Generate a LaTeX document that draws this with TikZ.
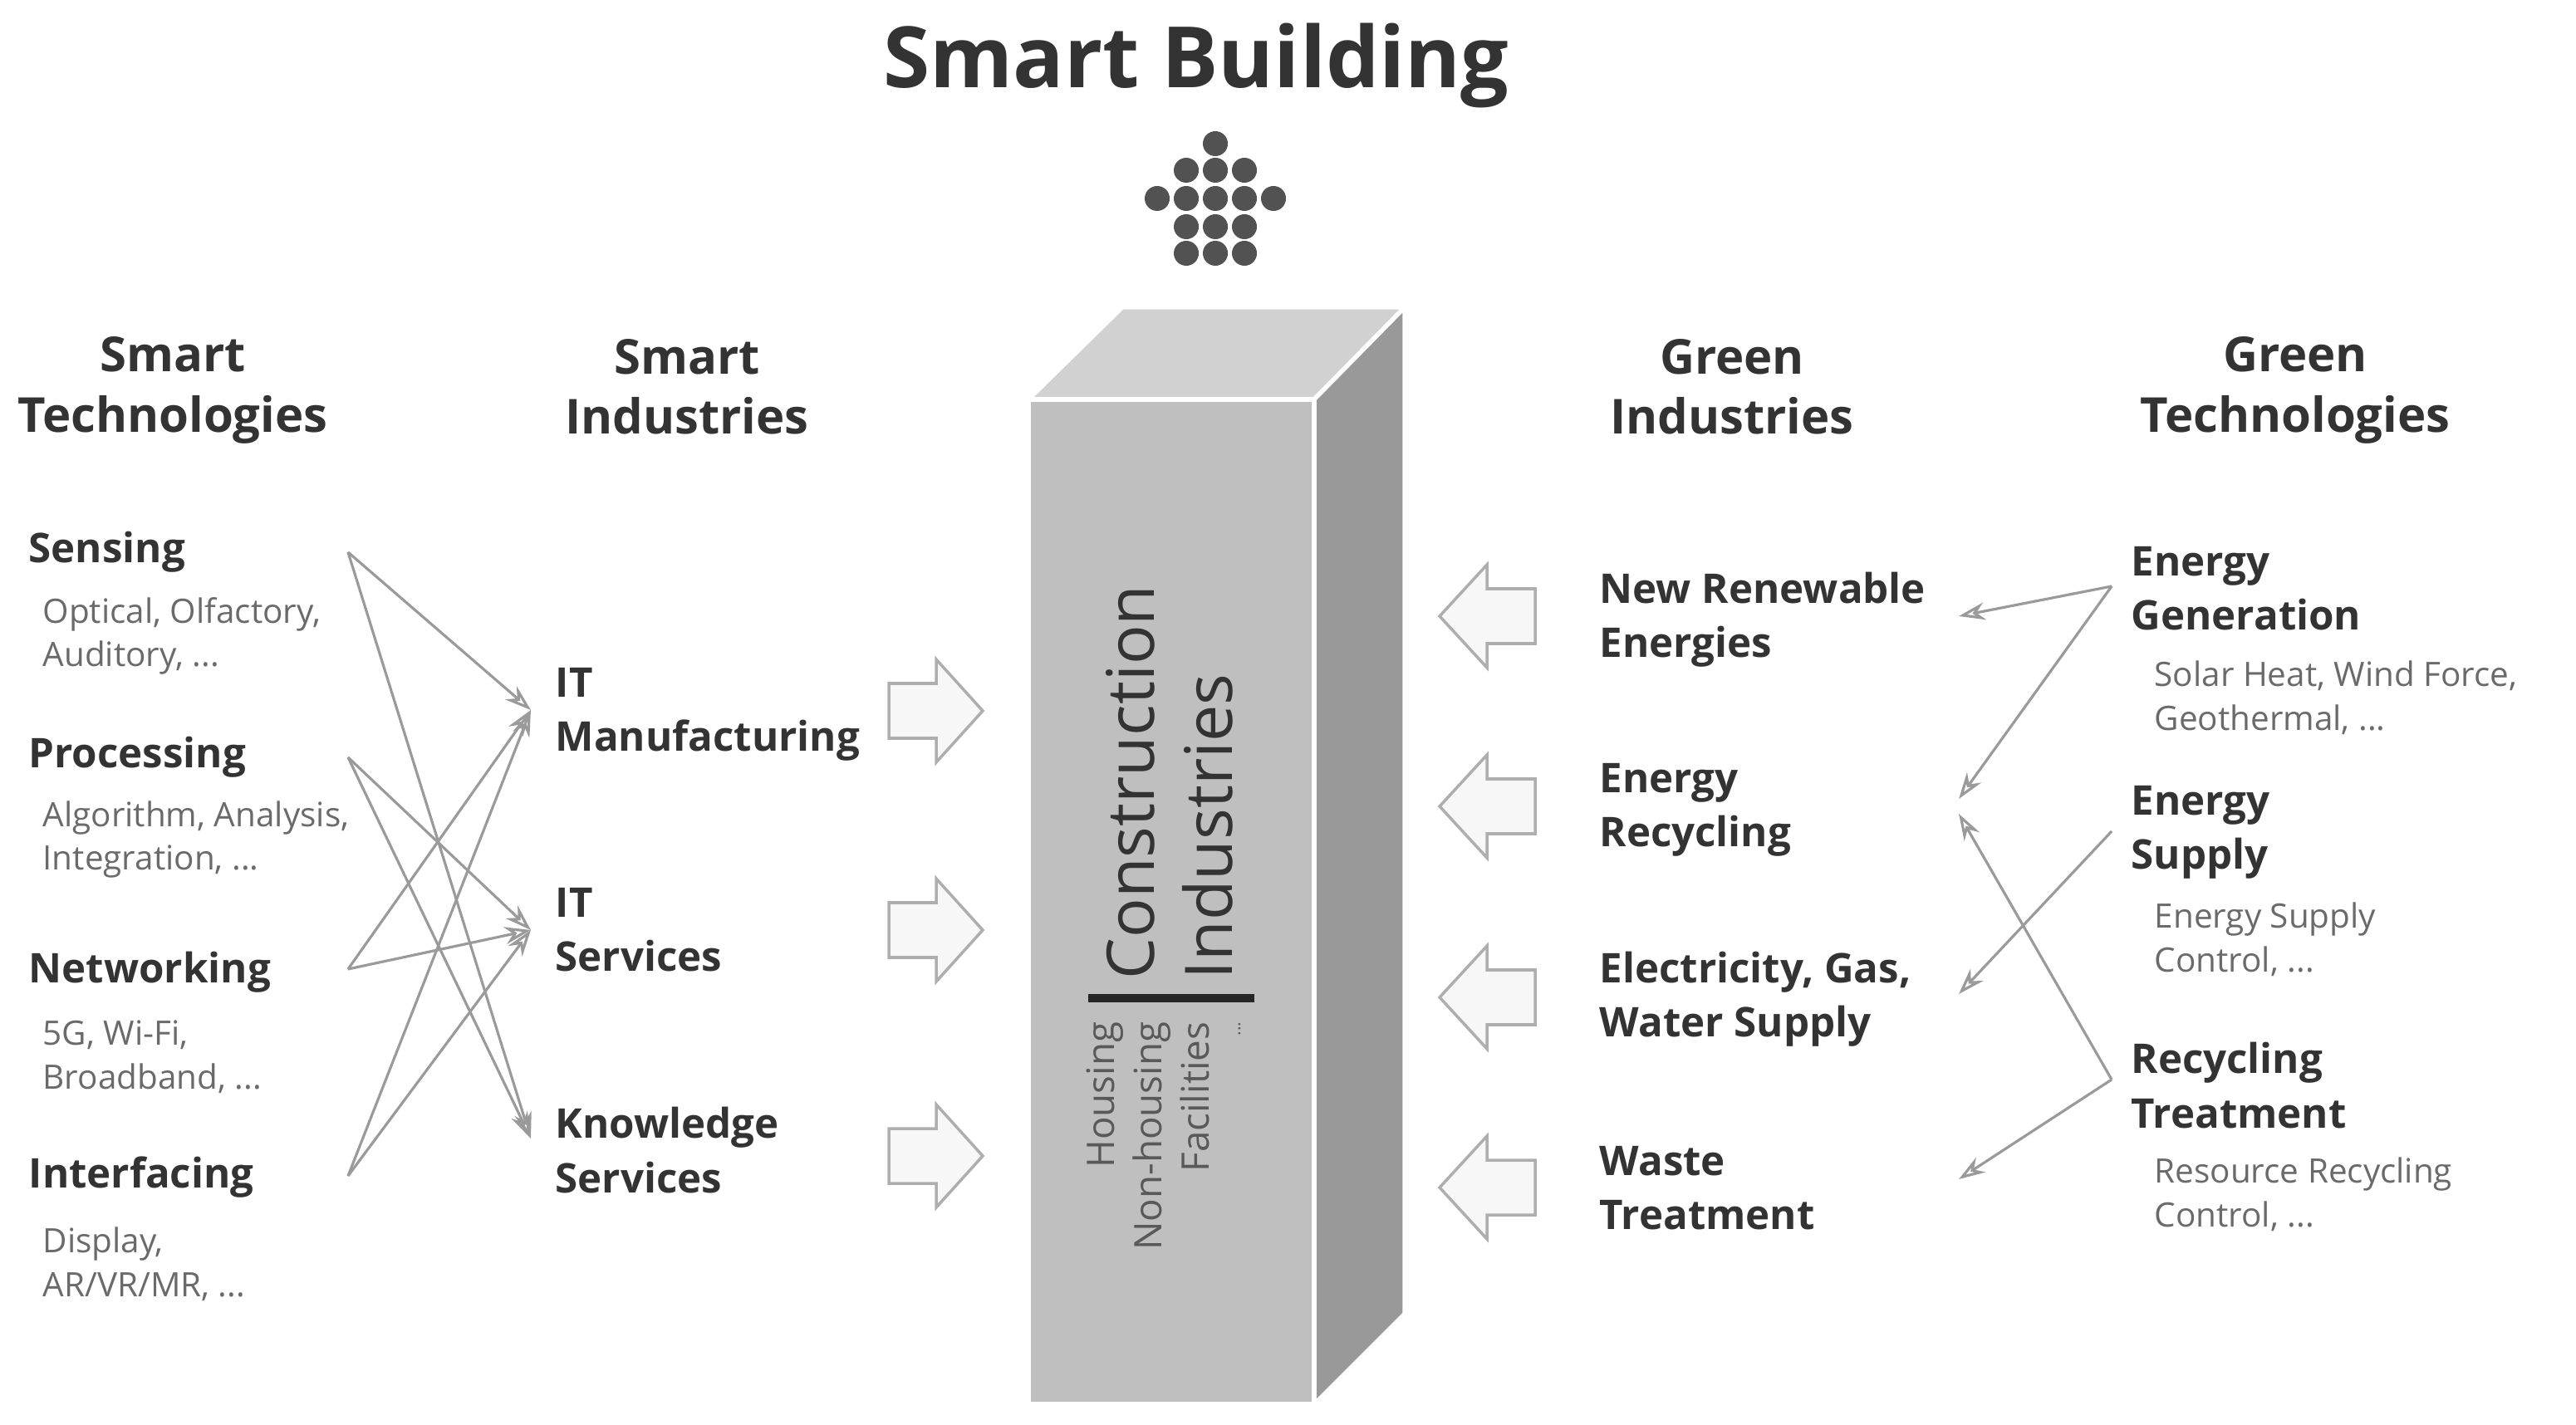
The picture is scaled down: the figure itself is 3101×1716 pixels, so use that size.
\documentclass[tikz,border=0pt]{standalone}
\usepackage{fontspec}
\setmainfont{Open Sans}
\usetikzlibrary{arrows.meta}
\definecolor{txt}{HTML}{333333}
\definecolor{sub}{HTML}{6A6A6A}
\definecolor{ln}{HTML}{9A9A9A}
\tikzset{
 x=0.01cm,y=-0.01cm,
 head/.style={font=\fontsize{16.5}{20.5}\selectfont\bfseries,text=txt,align=center,inner sep=0},
 item/.style={font=\fontsize{14}{18.5}\selectfont\bfseries,text=txt,align=left,anchor=west,inner sep=0},
 subt/.style={font=\fontsize{11.5}{15}\selectfont,text=sub,align=left,anchor=west,inner sep=0},
 conn/.style={draw=ln,line width=0.9pt,-{Stealth[length=9pt,width=6pt,open]}},
 blk/.style={draw=ln!80,fill=gray!6,line width=1pt},
 dot/.style={circle,fill=black!68,minimum size=0.3cm,inner sep=0},
}
\begin{document}
\begin{tikzpicture}
\useasboundingbox (0,0) rectangle (3101,1716);
% title
\node[font=\fontsize{29}{32}\selectfont\bfseries,text=txt] (title) at (1440,79) {Smart Building};
% dots
\foreach \i/\xx/\yy in {a/1463/173,b/1428/205,c/1463/205,d/1498/205,e/1393/239,f/1428/239,g/1463/239,h/1498/239,i/1533/239,j/1428/273,k/1463/273,l/1498/273,m/1428/305,n/1463/305,o/1498/305}
  \node[dot] (dot\i) at (\xx,\yy) {};
% building
\filldraw[fill=black!18,draw=white,line width=1.5pt] (1238,481) -- (1582,481) -- (1691,370) -- (1351,370) -- cycle;
\filldraw[fill=black!40,draw=white,line width=1.5pt] (1582,481) -- (1691,370) -- (1691,1582) -- (1582,1691) -- cycle;
\filldraw[fill=black!25,draw=white,line width=1.5pt] (1238,481) rectangle (1582,1691);
\node[rotate=90,anchor=west,font=\fontsize{22.5}{26}\selectfont,text=txt,inner sep=0] (constr) at (1361,1180) {Construction};
\node[rotate=90,anchor=west,font=\fontsize{22.5}{26}\selectfont,text=txt,inner sep=0] (indus) at (1454,1180) {Industries};
\draw[line width=3pt,black!85] (1310,1202) -- (1510,1202);
\foreach \n/\xx/\t in {hous/1330/Housing,nonh/1387/Non-housing,facil/1438/Facilities}
  \node[rotate=90,anchor=east,font=\fontsize{13}{14}\selectfont,text=black!65,inner sep=0] (\n) at (\xx,1230) {\t};
\node[rotate=90,anchor=east,font=\fontsize{6}{7}\selectfont,text=black!65,inner sep=0] (dots3) at (1492,1230) {...};
% block arrows
\foreach \n/\yy in {l1/856,l2/1120,l3/1392}
  \draw[blk] (1070,\yy-33) -- (1127,\yy-33) -- (1127,\yy-62) -- (1183,\yy) -- (1127,\yy+62) -- (1127,\yy+33) -- (1070,\yy+33) -- cycle;
\foreach \n/\yy in {r1/742,r2/971,r3/1201,r4/1430}
  \draw[blk] (1848,\yy-33) -- (1790,\yy-33) -- (1790,\yy-62) -- (1733,\yy) -- (1790,\yy+62) -- (1790,\yy+33) -- (1848,\yy+33) -- cycle;
% headings
\node[head] (h1) at (208,470) {Smart\\Technologies};
\node[head] (h2) at (827,466) {Smart\\Industries};
\node[head] (h3) at (2085,466) {Green\\Industries};
\node[head] (h4) at (2763,470) {Green\\Technologies};
% smart technologies
\node[item] (sens) at (34,665) {Sensing};
\node[subt] (senss) at (51,766) {Optical, Olfactory,\\Auditory, ...};
\node[item] (proc) at (34,912) {Processing};
\node[subt] (procs) at (51,1011) {Algorithm, Analysis,\\Integration, ...};
\node[item] (netw) at (34,1171) {Networking};
\node[subt] (netws) at (51,1273) {5G, Wi-Fi,\\Broadband, ...};
\node[item] (intf) at (34,1418) {Interfacing};
\node[subt] (intfs) at (51,1522) {Display,\\AR/VR/MR, ...};
% smart industries
\node[item] (itm) at (668,860) {IT\\Manufacturing};
\node[item] (its) at (668,1120) {IT\\Services};
\node[item] (ks) at (668,1385) {Knowledge\\Services};
% green industries
\node[item] (nre) at (1925,746) {New Renewable\\Energies};
\node[item] (er) at (1925,975) {Energy\\Recycling};
\node[item] (egw) at (1925,1203) {Electricity, Gas,\\Water Supply};
\node[item] (wt) at (1925,1431) {Waste\\Treatment};
% green technologies
\node[item] (eg) at (2565,709) {Energy\\Generation};
\node[subt] (egs) at (2593,840) {Solar Heat, Wind Force,\\Geothermal, ...};
\node[item] (es) at (2565,1002) {Energy\\Supply};
\node[subt] (ess) at (2593,1131) {Energy Supply\\Control, ...};
\node[item] (rt) at (2565,1307) {Recycling\\Treatment};
\node[subt] (rts) at (2593,1438) {Resource Recycling\\Control, ...};
% connector anchors
\coordinate (sA) at (419,665);
\coordinate (pA) at (419,912);
\coordinate (nA) at (419,1167);
\coordinate (iA) at (419,1416);
\coordinate (itmA) at (639,855);
\coordinate (itsA) at (639,1120);
\coordinate (ksA) at (639,1371);
\draw[conn] (sA) -- (itmA);
\draw[conn] (sA) -- (ksA);
\draw[conn] (pA) -- (itsA);
\draw[conn] (pA) -- (ksA);
\draw[conn] (nA) -- (itmA);
\draw[conn] (nA) -- (itsA);
\draw[conn] (iA) -- (itmA);
\draw[conn] (iA) -- (itsA);
\coordinate (egA) at (2542,706);
\coordinate (esA) at (2542,1001);
\coordinate (rtA) at (2542,1300);
\coordinate (nreA) at (2358,742);
\coordinate (erA1) at (2358,962);
\coordinate (erA2) at (2358,980);
\coordinate (egwA) at (2358,1197);
\coordinate (wtA) at (2358,1420);
\draw[conn] (egA) -- (nreA);
\draw[conn] (egA) -- (erA1);
\draw[conn] (esA) -- (egwA);
\draw[conn] (rtA) -- (erA2);
\draw[conn] (rtA) -- (wtA);
\end{tikzpicture}
\end{document}
